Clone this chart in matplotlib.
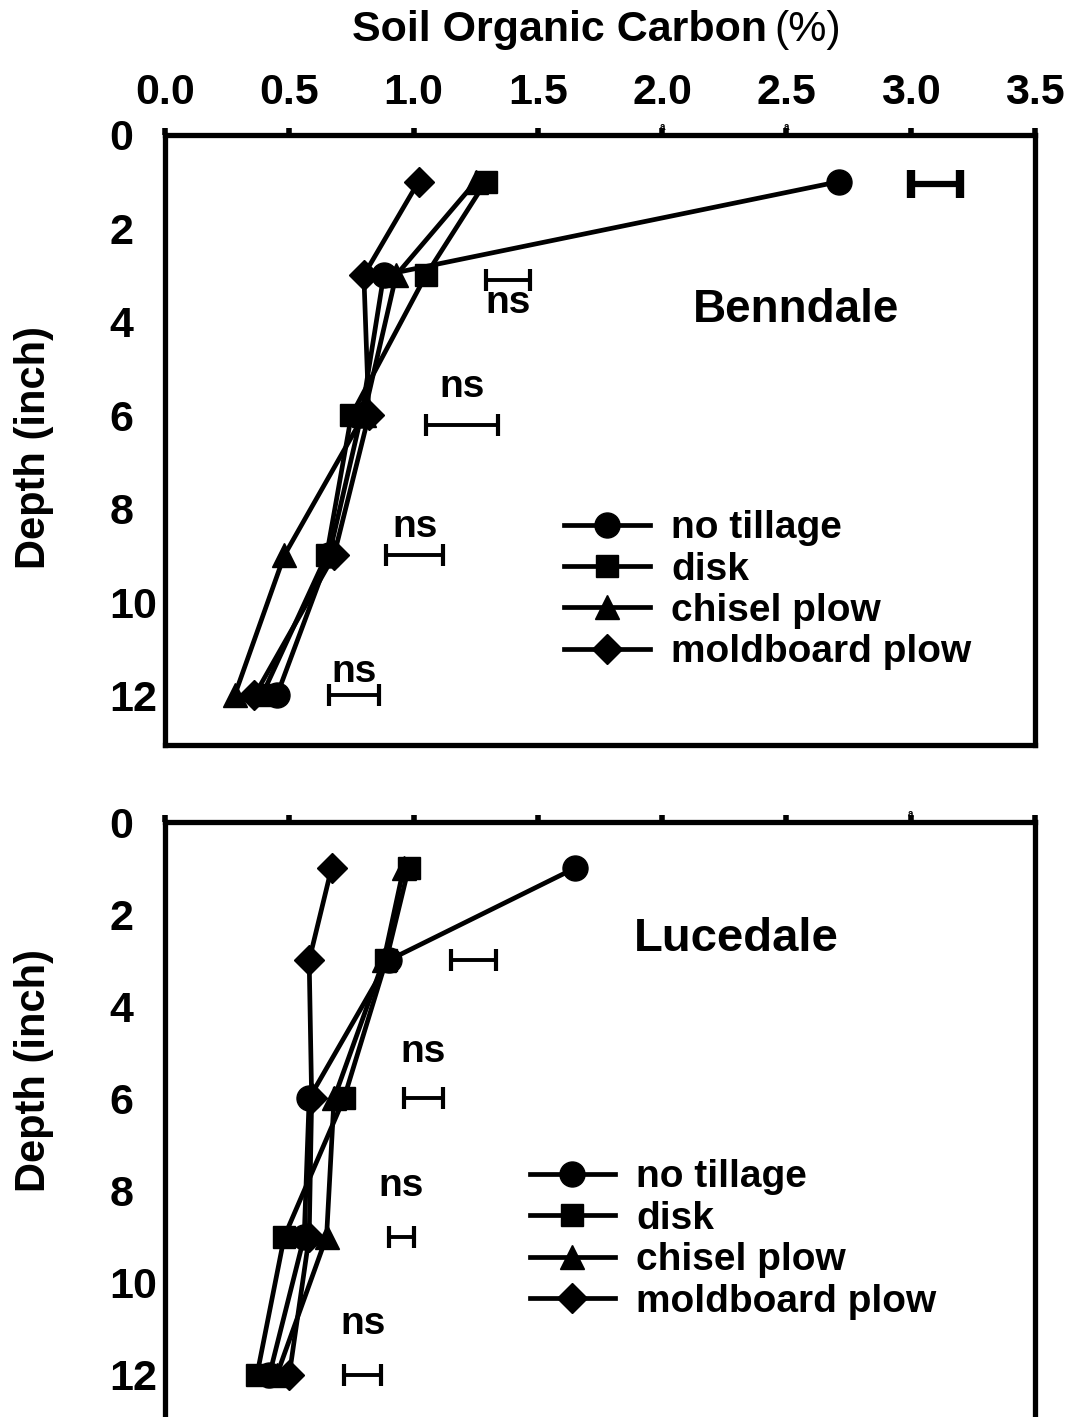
import numpy as np
import matplotlib
matplotlib.use("Agg")
import matplotlib.pyplot as plt

plt.rcParams['font.family'] = ['Liberation Sans', 'DejaVu Sans']
plt.rcParams['font.weight'] = 'bold'

depth = [1, 3, 6, 9, 12]
labels = ["no tillage", "disk", "chisel plow", "moldboard plow"]
markers = ["o", "s", "^", "D"]
msizes = [18, 16, 17, 15]

# Benndale, soil organic carbon (%)
ben_notill = [2.71, 0.88, 0.79, 0.66, 0.45]
ben_disk = [1.29, 1.05, 0.75, 0.65, 0.39]
ben_chisel = [1.25, 0.93, 0.80, 0.48, 0.28]
ben_mold = [1.02, 0.80, 0.82, 0.68, 0.36]

# Lucedale
luc_notill = [1.65, 0.90, 0.58, 0.56, 0.42]
luc_disk = [0.98, 0.89, 0.72, 0.48, 0.37]
luc_chisel = [0.96, 0.88, 0.68, 0.65, 0.45]
luc_mold = [0.67, 0.58, 0.59, 0.58, 0.50]

# LSD bars: depth, left end, right end, label
ben_lsd_depth = [1.05, 3.1, 6.2, 9.0, 12.0]
ben_lsd_lo = [3.00, 1.29, 1.05, 0.89, 0.66]
ben_lsd_hi = [3.20, 1.47, 1.34, 1.12, 0.86]
ben_lsd_txt = ["", "ns", "ns", "ns", "ns"]
ben_txt_depth = [0, 3.6, 5.4, 8.4, 11.5]

luc_lsd_depth = [3.0, 6.0, 9.0, 12.0]
luc_lsd_lo = [1.15, 0.96, 0.90, 0.72]
luc_lsd_hi = [1.33, 1.12, 1.00, 0.87]
luc_lsd_txt = ["", "ns", "ns", "ns"]
luc_txt_depth = [0, 5.0, 7.9, 10.9]

xticks = [0.0, 0.5, 1.0, 1.5, 2.0, 2.5, 3.0, 3.5]
yticks = [0, 2, 4, 6, 8, 10, 12]

fig = plt.figure(figsize=(10.74, 14.17), dpi=100)
W, H = 1074.0, 1417.0
ax1 = fig.add_axes([165 / W, 1 - 745 / H, 870 / W, 610 / H])
ax2 = fig.add_axes([165 / W, 1 - 1432 / H, 870 / W, 610 / H])


def style(ax, ymax, show_xlabels):
    ax.set_xlim(0, 3.5)
    ax.set_ylim(ymax, 0)
    ax.xaxis.tick_top()
    ax.set_xticks(xticks)
    ax.set_yticks(yticks)
    if show_xlabels:
        ax.set_xticklabels(["%.1f" % v for v in xticks])
    else:
        ax.set_xticklabels([])
    ax.tick_params(axis='x', direction='out', length=5, width=4, pad=11,
                   labelsize=31)
    ax.tick_params(axis='y', length=0, pad=40, labelsize=31)
    for t in ax.get_yticklabels():
        t.set_horizontalalignment('left')
    for s in ax.spines.values():
        s.set_linewidth(3.8)


def draw(ax, series, lsd_d, lsd_lo, lsd_hi, lsd_txt, txt_d, site, site_xy,
         site_fs, leg_xy):
    for vals, lab, m, ms in zip(series, labels, markers, msizes):
        ax.plot(vals, depth, color='black', lw=3.4, marker=m, ms=ms,
                label=lab, clip_on=False)
    for i in range(len(lsd_d)):
        c = (lsd_lo[i] + lsd_hi[i]) / 2
        h = (lsd_hi[i] - lsd_lo[i]) / 2
        big = i == 0 and site == "Benndale"
        ax.errorbar(c, lsd_d[i], xerr=h, fmt='none', ecolor='black',
                    elinewidth=4.5 if big else 2.8, capsize=10 if big else 8,
                    capthick=6 if big else 3)
        if lsd_txt[i]:
            ax.text(c, txt_d[i], lsd_txt[i], ha='center', va='center',
                    fontsize=28, fontweight='bold')
    ax.text(site_xy[0], site_xy[1], site, ha='center', va='center',
            fontsize=site_fs, fontweight='bold')
    ax.legend(loc='upper left', bbox_to_anchor=leg_xy, frameon=False,
              fontsize=28, handlelength=2.2, handletextpad=0.55,
              borderpad=0, borderaxespad=0, labelspacing=0.14,
              markerscale=1.0)


style(ax1, 13.06, True)
style(ax2, 13.24, False)

draw(ax1, [ben_notill, ben_disk, ben_chisel, ben_mold], ben_lsd_depth,
     ben_lsd_lo, ben_lsd_hi, ben_lsd_txt, ben_txt_depth, "Benndale",
     (2.54, 3.75), 33, (0.459, 0.385))
draw(ax2, [luc_notill, luc_disk, luc_chisel, luc_mold], luc_lsd_depth,
     luc_lsd_lo, luc_lsd_hi, luc_lsd_txt, luc_txt_depth, "Lucedale",
     (2.3, 2.55), 34, (0.419, 0.447))

# small stray marks above the top axes
ax1.text(2.0, 1.005, "a", transform=ax1.get_xaxis_transform(), ha='center',
         va='bottom', fontsize=7)
ax1.text(2.5, 1.005, "a", transform=ax1.get_xaxis_transform(), ha='center',
         va='bottom', fontsize=7)
ax2.text(3.0, 1.005, "a", transform=ax2.get_xaxis_transform(), ha='center',
         va='bottom', fontsize=7)

fig.text(767 / W, 1 - 30 / H, "Soil Organic Carbon", ha='right', va='center',
         fontsize=31, fontweight='bold')
fig.text(774 / W, 1 - 30 / H, "(%)", ha='left', va='center',
         fontsize=31, fontweight='normal')
fig.text(34 / W, 1 - 447 / H, "Depth (inch)", rotation=90, ha='center',
         va='center', fontsize=30, fontweight='bold')
fig.text(34 / W, 1 - 1070 / H, "Depth (inch)", rotation=90, ha='center',
         va='center', fontsize=30, fontweight='bold')

fig.savefig("out.png", dpi=100)
